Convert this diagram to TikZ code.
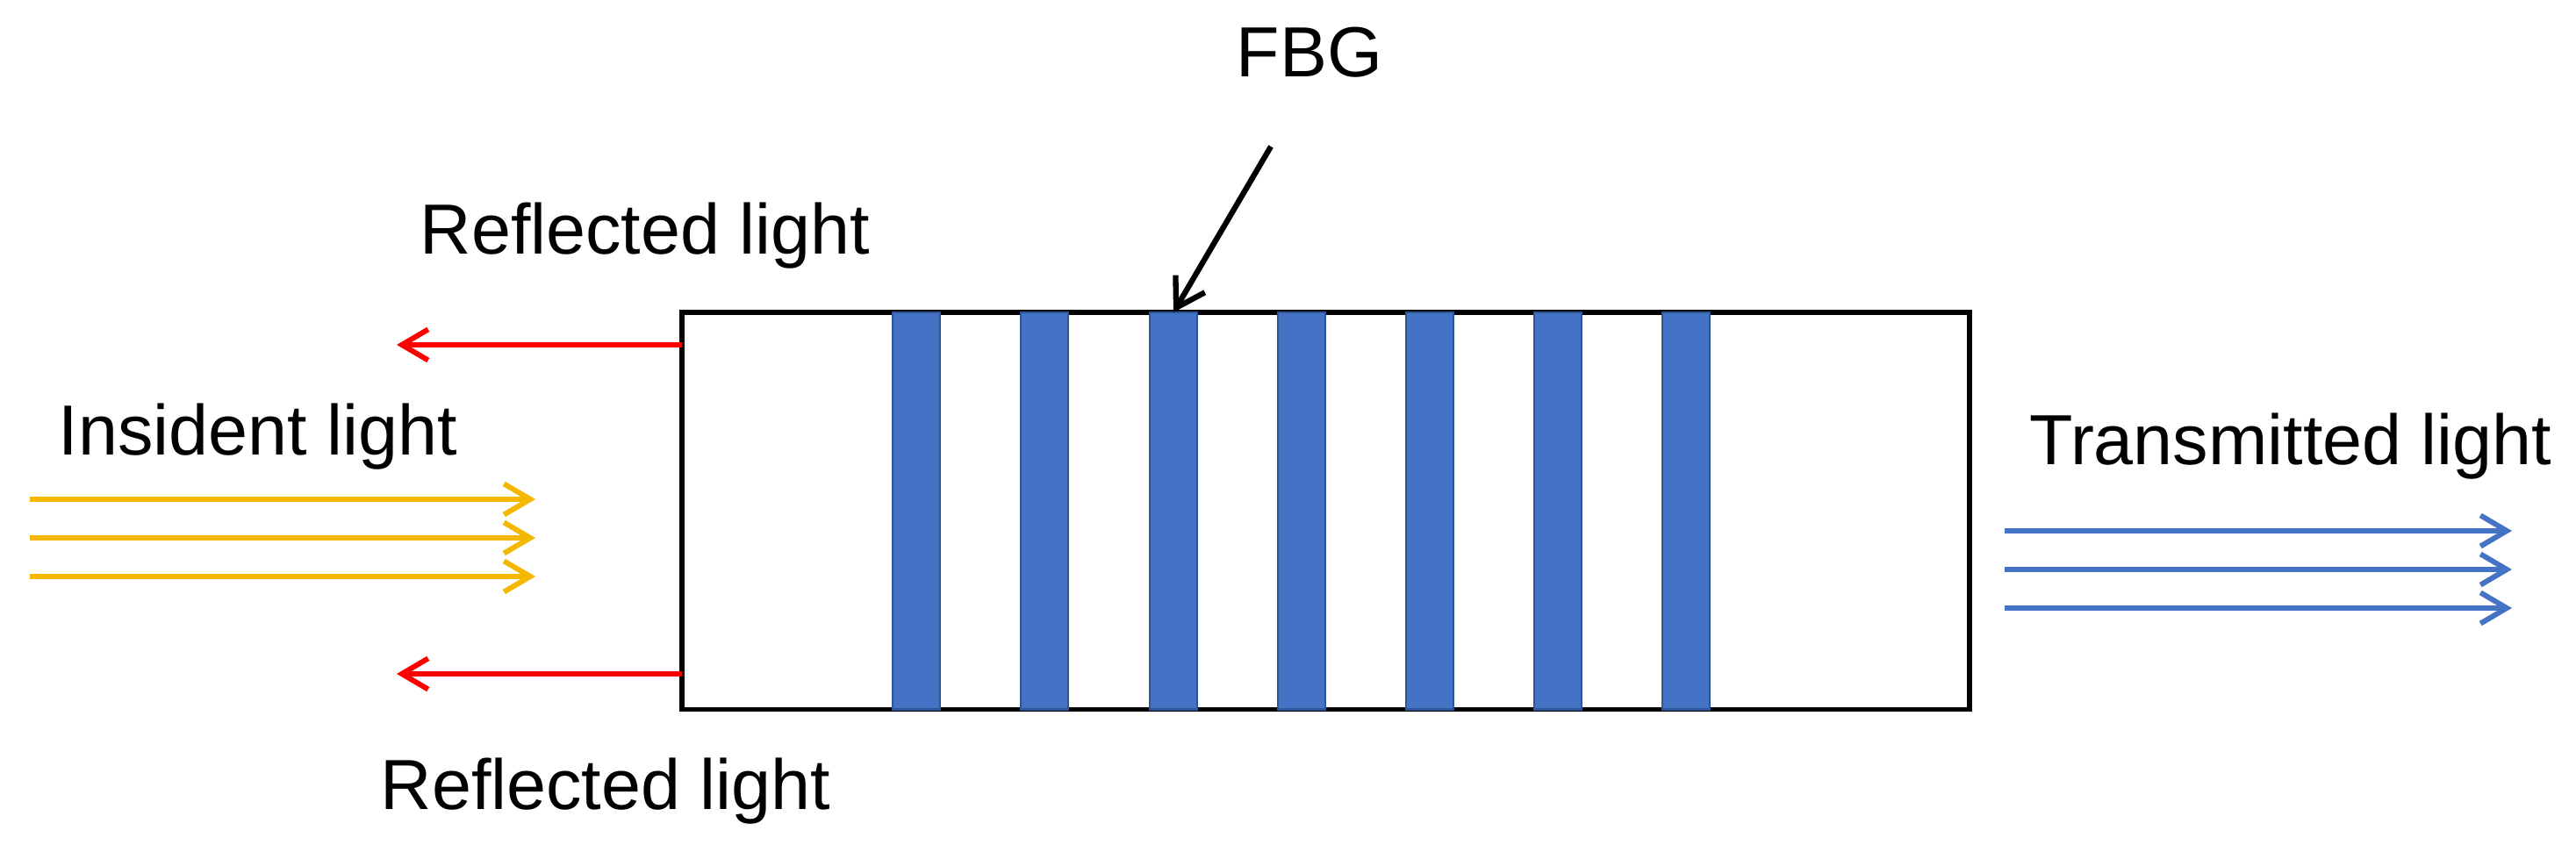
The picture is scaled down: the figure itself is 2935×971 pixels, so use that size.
\documentclass[tikz,border=0pt]{standalone}
\usepackage{fontspec}
\setmainfont{Liberation Sans}
\usetikzlibrary{arrows.meta}
\definecolor{goldc}{RGB}{244,184,0}
\definecolor{redc}{RGB}{255,0,0}
\definecolor{bluec}{RGB}{68,114,196}
\definecolor{bluedark}{RGB}{47,85,151}
\tikzset{
  lbl/.style={font=\fontsize{23}{27}\selectfont, anchor=base, inner sep=0},
  ray/.style={line width=1.7pt, -{Straight Barb[length=8.5pt,width=10pt,line width=1.7pt]}},
  grating/.style={fill=bluec, draw=bluedark, line width=0.8pt, minimum width=0.54cm,
    minimum height=4.52cm, inner sep=0, outer sep=0, anchor=north},
  fiberbox/.style={draw=black, line width=1.5pt, minimum width=14.66cm, minimum height=4.52cm,
    inner sep=0, outer sep=0, anchor=north west}
}
\begin{document}
\begin{tikzpicture}[x=0.01cm,y=-0.01cm]
\useasboundingbox (0,0) rectangle (2935,971);
% fiber
\node[fiberbox] (fiber) at (777,356) {};
% grating bars
\foreach \i/\xx in {1/1044,2/1190,3/1337,4/1483,5/1629,6/1775,7/1921}{
  \node[grating] (g\i) at (\xx,356) {};
}
% labels
\node[lbl] (fbgl) at (1492,88) {FBG};
\node[lbl] (refl1) at (735,290) {Reflected light};
\node[lbl] (refl2) at (690,923) {Reflected light};
\node[lbl] (incl) at (294,519) {Insident light};
\node[lbl] (trl) at (2610,530) {Transmitted light};
% FBG pointer
\coordinate (fbgs) at (1448,167);
\draw[line width=1.8pt, -{Straight Barb[length=9pt,width=11pt,line width=1.8pt]}] (fbgs) -- (g3.north);
% reflected rays
\coordinate (r1s) at (777,393);
\coordinate (r1e) at (452,393);
\coordinate (r2s) at (777,768);
\coordinate (r2e) at (452,768);
\draw[ray, redc] (r1s) -- (r1e);
\draw[ray, redc] (r2s) -- (r2e);
% incident rays
\foreach \k/\yy in {1/569,2/613,3/657}{
  \coordinate (i\k s) at (34,\yy);
  \coordinate (i\k e) at (610,\yy);
  \draw[ray, goldc] (i\k s) -- (i\k e);
}
% transmitted rays
\foreach \k/\yy in {1/605,2/649,3/693}{
  \coordinate (t\k s) at (2284,\yy);
  \coordinate (t\k e) at (2862,\yy);
  \draw[ray, bluec] (t\k s) -- (t\k e);
}
\end{tikzpicture}
\end{document}
